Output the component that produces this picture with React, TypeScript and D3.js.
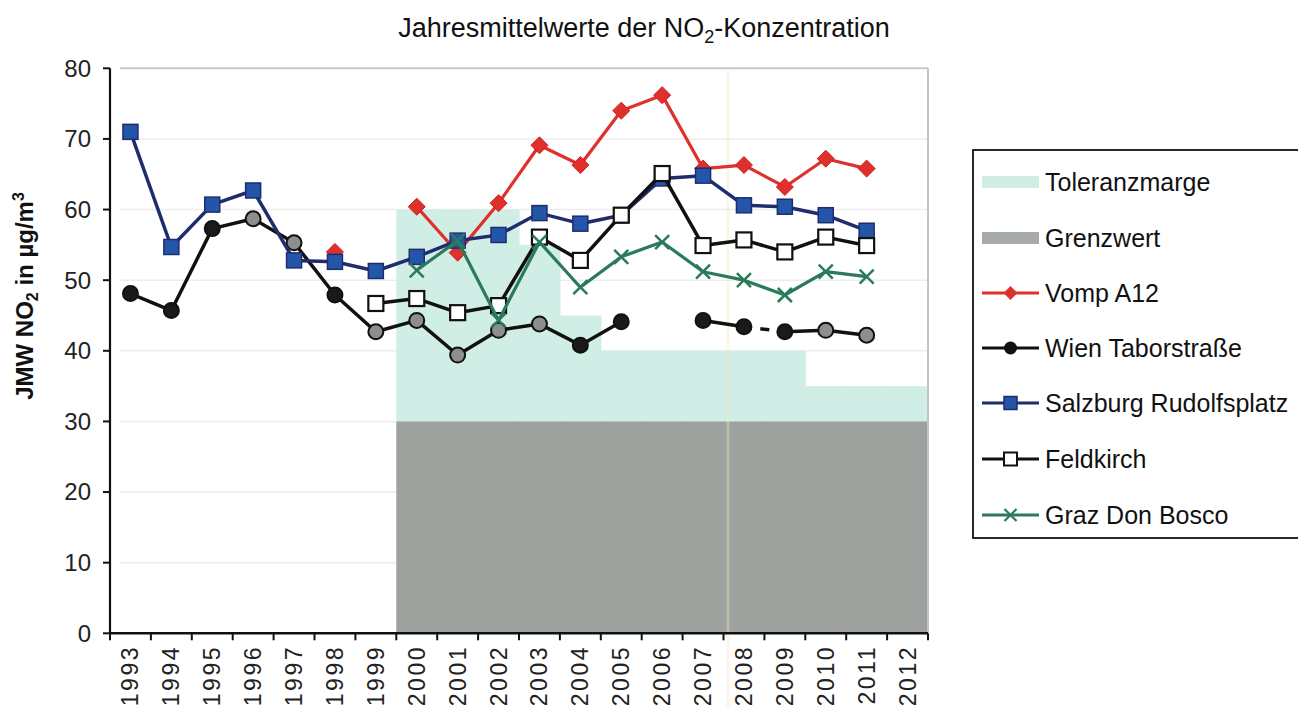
import React from 'react';
import * as d3 from 'd3';

const years = ['1993', '1994', '1995', '1996', '1997', '1998', '1999', '2000', '2001', '2002', '2003', '2004', '2005', '2006', '2007', '2008', '2009', '2010', '2011', '2012'];
const yTicks = [0, 10, 20, 30, 40, 50, 60, 70, 80];

const vompA12 = [null, null, null, null, null, 54.0, null, 60.4, 53.9, 60.9, 69.1, 66.3, 74.0, 76.2, 65.8, 66.3, 63.2, 67.2, 65.8, null];
const wienTaborstrasse = [48.1, 45.7, 57.3, 58.7, 55.3, 47.9, 42.7, 44.3, 39.4, 42.9, 43.8, 40.8, 44.1, null, 44.3, 43.4, 42.7, 42.9, 42.2, null];
const salzburgRudolfsplatz = [71.0, 54.7, 60.7, 62.7, 52.8, 52.6, 51.3, 53.3, 55.6, 56.4, 59.5, 58.0, 59.2, 64.4, 64.8, 60.6, 60.4, 59.2, 57.0, null];
const feldkirch = [null, null, null, null, null, null, 46.7, 47.4, 45.4, 46.4, 56.1, 52.8, 59.2, 65.1, 54.9, 55.7, 54.0, 56.1, 54.9, null];
const grazDonBosco = [null, null, null, null, null, null, null, 51.4, 55.6, 44.3, 55.4, 49.0, 53.3, 55.4, 51.2, 50.0, 47.9, 51.2, 50.5, null];
const grenzwert = [null, null, null, null, null, null, null, 30, 30, 30, 30, 30, 30, 30, 30, 30, 30, 30, 30, 30];
const toleranzmarge = [null, null, null, null, null, null, null, 30, 30, 30, 25, 15, 10, 10, 10, 10, 10, 5, 5, 5];
// which Wien markers are drawn dark (1) or grey (0) in the scanned original
const wienMarkerDark = [1, 1, 1, 0, 0, 1, 0, 0, 0, 0, 0, 1, 1, 0, 1, 1, 1, 0, 0, 0];
// Wien link after 2008 is only a short dash
const wienBrokenAfter = ['2008'];

const legendItems = ['Toleranzmarge', 'Grenzwert', 'Vomp A12', 'Wien Taborstraße', 'Salzburg Rudolfsplatz', 'Feldkirch', 'Graz Don Bosco'];

const FONT = '"Liberation Sans", Arial, Helvetica, sans-serif';
const C = {
  mint: '#d1eee6',
  grey: '#9ea29f',
  red: '#e0302c',
  black: '#111111',
  navy: '#1f2d6e',
  blue: '#2356a8',
  green: '#2b7a5a',
  wienGrey: '#8d8f8d',
};

type Pt = { i: number; v: number };

function pts(arr: (number | null)[]): Pt[] {
  return arr.map((v, i) => ({ i, v: v as number })).filter((p) => p.v != null);
}

export default function App() {
  const x = d3.scaleBand<string>().domain(years).range([110, 928]).padding(0);
  const y = d3.scaleLinear().domain([0, 80]).range([633.3, 68.3]);
  const bw = x.bandwidth();
  const cx = (i: number) => (x(years[i]) as number) + bw / 2;

  const line = d3
    .line<number | null>()
    .defined((d) => d != null)
    .x((_, i) => cx(i))
    .y((d) => y(d as number));

  const x0 = x.range()[0];
  const x1 = x.range()[1];

  const wienSegs: { a: number; b: number; broken: boolean }[] = [];
  for (let i = 0; i < years.length - 1; i++) {
    if (wienTaborstrasse[i] != null && wienTaborstrasse[i + 1] != null) {
      wienSegs.push({ a: i, b: i + 1, broken: wienBrokenAfter.includes(years[i]) });
    }
  }

  const diamond = (px: number, py: number, r: number) =>
    `M${px},${py - r}L${px + r},${py}L${px},${py + r}L${px - r},${py}Z`;

  const legendY = [182, 238, 293, 348, 403, 459, 515];
  const lx0 = 982;
  const lx1 = 1039;
  const lxm = (lx0 + lx1) / 2;

  return (
    <svg width={1298} height={709} style={{ position: 'absolute', left: 0, top: 0, background: '#fff' }} fontFamily={FONT}>
      <text x={644} y={37} textAnchor="middle" fontSize={27} fill="#111">
        <tspan>Jahresmittelwerte der NO</tspan>
        <tspan fontSize={18} dy={6}>2</tspan>
        <tspan dy={-6}>-Konzentration</tspan>
      </text>

      {yTicks.filter((t) => t > 0 && t < 80).map((t) => (
        <line key={'g' + t} x1={x0 + 10} x2={x1} y1={y(t)} y2={y(t)} stroke="#ededed" strokeWidth={1.5} />
      ))}

      {years.map((yr, i) => {
        const g = grenzwert[i];
        const m = toleranzmarge[i];
        if (g == null) return null;
        const xl = x(yr) as number;
        return (
          <g key={'a' + yr}>
            <rect x={xl} width={bw + 0.6} y={y(g + (m || 0))} height={y(g) - y(g + (m || 0))} fill={C.mint} />
            <rect x={xl} width={bw + 0.6} y={y(g)} height={y(0) - y(g)} fill={C.grey} />
          </g>
        );
      })}

      <line x1={x0 + 10} x2={x1} y1={y(80)} y2={y(80)} stroke="#c8c8c8" strokeWidth={2} />
      <line x1={x1} x2={x1} y1={y(80)} y2={y(0)} stroke="#c4c4c4" strokeWidth={2} />
      <line x1={728} x2={728} y1={y(80) + 2} y2={709} stroke="#e9ecc4" strokeWidth={3} opacity={0.35} />

      <path d={line(vompA12) || ''} fill="none" stroke={C.red} strokeWidth={3.2} strokeLinejoin="round" />
      {pts(vompA12).map((p) => (
        <path key={'v' + p.i} d={diamond(cx(p.i), y(p.v), 8.5)} fill={C.red} stroke="#c82020" strokeWidth={1} />
      ))}

      {wienSegs.map((s) => {
        const xa = cx(s.a), ya = y(wienTaborstrasse[s.a] as number);
        const xb = cx(s.b), yb = y(wienTaborstrasse[s.b] as number);
        if (s.broken) {
          const t0 = 0.4, t1 = 0.62;
          return (
            <line key={'w' + s.a} x1={xa + (xb - xa) * t0} y1={ya + (yb - ya) * t0} x2={xa + (xb - xa) * t1} y2={ya + (yb - ya) * t1} stroke={C.black} strokeWidth={3.5} />
          );
        }
        return <line key={'w' + s.a} x1={xa} y1={ya} x2={xb} y2={yb} stroke={C.black} strokeWidth={3.5} strokeLinecap="round" />;
      })}
      {pts(wienTaborstrasse).map((p) => (
        <circle key={'wc' + p.i} cx={cx(p.i)} cy={y(p.v)} r={7.5} fill={wienMarkerDark[p.i] ? '#1a1a1a' : C.wienGrey} stroke="#111" strokeWidth={2} />
      ))}

      <path d={line(salzburgRudolfsplatz) || ''} fill="none" stroke={C.navy} strokeWidth={3.5} strokeLinejoin="round" />
      {pts(salzburgRudolfsplatz).map((p) => (
        <rect key={'s' + p.i} x={cx(p.i) - 7.5} y={y(p.v) - 7.5} width={15} height={15} fill={C.blue} stroke={C.navy} strokeWidth={1.5} />
      ))}

      <path d={line(feldkirch) || ''} fill="none" stroke={C.black} strokeWidth={3.5} strokeLinejoin="round" />
      {pts(feldkirch).map((p) => (
        <rect key={'f' + p.i} x={cx(p.i) - 7.5} y={y(p.v) - 7.5} width={15} height={15} fill="#fff" stroke={C.black} strokeWidth={2.2} />
      ))}

      <path d={line(grazDonBosco) || ''} fill="none" stroke={C.green} strokeWidth={3.2} strokeLinejoin="round" />
      {pts(grazDonBosco).map((p) => (
        <path key={'g' + p.i} d={`M${cx(p.i) - 7},${y(p.v) - 7}L${cx(p.i) + 7},${y(p.v) + 7}M${cx(p.i) - 7},${y(p.v) + 7}L${cx(p.i) + 7},${y(p.v) - 7}`} stroke={C.green} strokeWidth={2.5} />
      ))}

      <line x1={x0} x2={x1} y1={y(0)} y2={y(0)} stroke="#111" strokeWidth={2.5} />
      {years.concat(['end']).map((yr, i) => {
        const xx = i < years.length ? (x(yr) as number) : x1;
        return <line key={'xt' + i} x1={xx} x2={xx} y1={y(0)} y2={y(0) + 7} stroke="#111" strokeWidth={2} />;
      })}
      <line x1={x0} x2={x0} y1={y(80)} y2={y(0)} stroke="#111" strokeWidth={2.2} />
      {yTicks.map((t) => (
        <g key={'yt' + t}>
          <line x1={x0 - 7} x2={x0} y1={y(t)} y2={y(t)} stroke="#111" strokeWidth={2} />
          <text x={91} y={y(t)} dy="0.35em" textAnchor="end" fontSize={24} fill="#222">{t}</text>
        </g>
      ))}
      {years.map((yr, i) => (
        <text key={'xl' + yr} transform={`translate(${cx(i) + 8},${645}) rotate(-90)`} textAnchor="end" fontSize={23} letterSpacing={2.5} fill="#222">{yr}</text>
      ))}

      <text transform={`translate(33,296) rotate(-90)`} textAnchor="middle" fontSize={24} fontWeight="bold" fill="#111">
        <tspan>JMW NO</tspan>
        <tspan fontSize={16} dy={5}>2</tspan>
        <tspan dy={-5}> in µg/m</tspan>
        <tspan fontSize={16} dy={-9}>3</tspan>
      </text>

      <rect x={973} y={150} width={340} height={388} fill="#fff" stroke="#111" strokeWidth={1.8} />
      {legendItems.map((name, k) => {
        const ly = legendY[k];
        let sym: React.ReactNode = null;
        if (k === 0) sym = <rect x={lx0} y={ly - 6} width={lx1 - lx0} height={12} fill={C.mint} />;
        if (k === 1) sym = <rect x={lx0} y={ly - 6} width={lx1 - lx0} height={12} fill="#a6aba7" />;
        if (k === 2)
          sym = (
            <g>
              <line x1={lx0} x2={lx1} y1={ly} y2={ly} stroke={C.red} strokeWidth={3} />
              <path d={diamond(lxm, ly, 7)} fill={C.red} />
            </g>
          );
        if (k === 3)
          sym = (
            <g>
              <line x1={lx0} x2={lx1} y1={ly} y2={ly} stroke={C.black} strokeWidth={3} />
              <circle cx={lxm} cy={ly} r={6.5} fill="#111" />
            </g>
          );
        if (k === 4)
          sym = (
            <g>
              <line x1={lx0} x2={lx1} y1={ly} y2={ly} stroke={C.navy} strokeWidth={3} />
              <rect x={lxm - 6.5} y={ly - 6.5} width={13} height={13} fill={C.blue} stroke={C.navy} strokeWidth={1.5} />
            </g>
          );
        if (k === 5)
          sym = (
            <g>
              <line x1={lx0} x2={lx1} y1={ly} y2={ly} stroke={C.black} strokeWidth={3} />
              <rect x={lxm - 6.5} y={ly - 6.5} width={13} height={13} fill="#fff" stroke={C.black} strokeWidth={2} />
            </g>
          );
        if (k === 6)
          sym = (
            <g>
              <line x1={lx0} x2={lx1} y1={ly} y2={ly} stroke={C.green} strokeWidth={3} />
              <path d={`M${lxm - 6},${ly - 6}L${lxm + 6},${ly + 6}M${lxm - 6},${ly + 6}L${lxm + 6},${ly - 6}`} stroke={C.green} strokeWidth={2.2} />
            </g>
          );
        return (
          <g key={'lg' + k}>
            {sym}
            <text x={1045} y={ly} dy="0.35em" fontSize={25} fill="#111">{name}</text>
          </g>
        );
      })}
    </svg>
  );
}
